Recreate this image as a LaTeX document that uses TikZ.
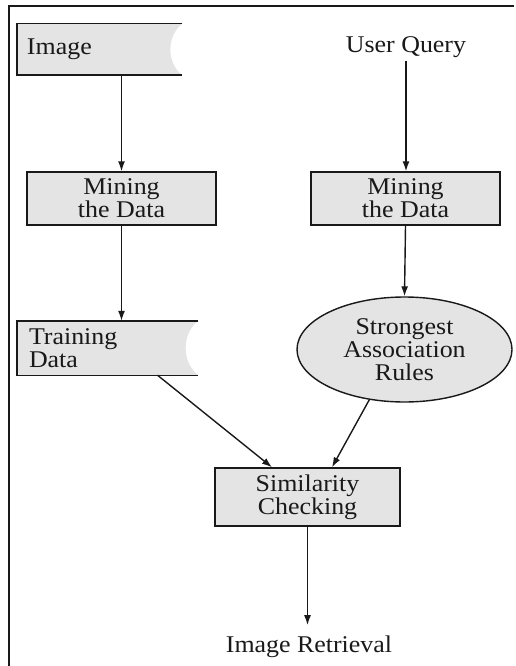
\documentclass[tikz,border=0pt]{standalone}
\usepackage{fontspec}
\setmainfont[FakeStretch=1.08]{Liberation Serif}
\usetikzlibrary{shapes.geometric,arrows.meta}
\definecolor{boxfill}{RGB}{228,228,228}
\definecolor{ink}{RGB}{25,25,25}
\begin{document}
\begin{tikzpicture}[x=1pt,y=-1pt,
  every node/.style={font=\fontsize{24}{23}\selectfont, text=ink},
  procbox/.style={draw=ink, fill=boxfill, line width=1.4pt, rectangle, inner sep=0pt, align=center},
  databox/.style={rectangle, inner ysep=0pt, align=left},
  plain/.style={inner sep=3pt},
  conn/.style={draw=ink, line width=1.4pt, -{Latex[length=10pt,width=7pt]}}
]
\useasboundingbox (0,0) rectangle (515,666);
% frame
\draw[ink, line width=1.6pt] (9,666) -- (9,6) -- (514,6);

% concave data boxes
\node[databox, minimum width=165pt, minimum height=51pt, inner xsep=10pt, text width=145pt] (img) at (99.5,49.5) {};
\node[databox, minimum width=181pt, minimum height=54pt, inner xsep=12pt, text width=157pt] (train) at (107.5,348) {};
\foreach \n in {img,train}{
  \fill[boxfill] (\n.north west) -- (\n.north east) to[bend right=52] (\n.south east) -- (\n.south west) -- cycle;
  \draw[ink, line width=1.4pt] (\n.north east) -- (\n.north west) -- (\n.south west) -- (\n.south east);
}
\node[databox, minimum width=165pt, minimum height=51pt, inner xsep=10pt, text width=145pt] (imgtext) at (img.center) {Image};
\node[databox, minimum width=181pt, minimum height=54pt, inner xsep=12pt, text width=157pt] (traintext) at (train.center) {Training\\Data};

% process boxes
\node[procbox, minimum width=189pt, minimum height=53pt] (minL) at (121.5,198.5) {Mining\\the Data};
\node[procbox, minimum width=189pt, minimum height=53pt] (minR) at (405.5,198.5) {Mining\\the Data};
\node[procbox, minimum width=185pt, minimum height=58pt] (sim) at (307.5,497) {Similarity\\Checking};
\node[draw=ink, fill=boxfill, line width=1.4pt, ellipse, inner sep=0pt, minimum width=215pt, minimum height=105pt, align=center] (ell) at (404.5,349.5) {Strongest\\Association\\Rules};

% plain texts
\node[plain] (uq) at (406,47) {User Query};
\node[inner xsep=2pt, inner ysep=10pt, anchor=base] (ir) at (309,652) {Image Retrieval};

% connectors
\draw[conn] (img.south -| minL.north) -- (minL.north);
\draw[conn] (minL.south) -- (train.north -| minL.south);
\draw[conn] (uq.south) -- (uq.south |- minR.north);
\draw[conn] (minR.south) -- (ell.north);
\draw[conn] ([xshift=50pt]train.south) -- ([xshift=-35.5pt]sim.north);
\draw[conn] (ell.235) -- ([xshift=24.5pt]sim.north);
\draw[conn] (sim.south) -- (sim.south |- ir.north);
\end{tikzpicture}
\end{document}
